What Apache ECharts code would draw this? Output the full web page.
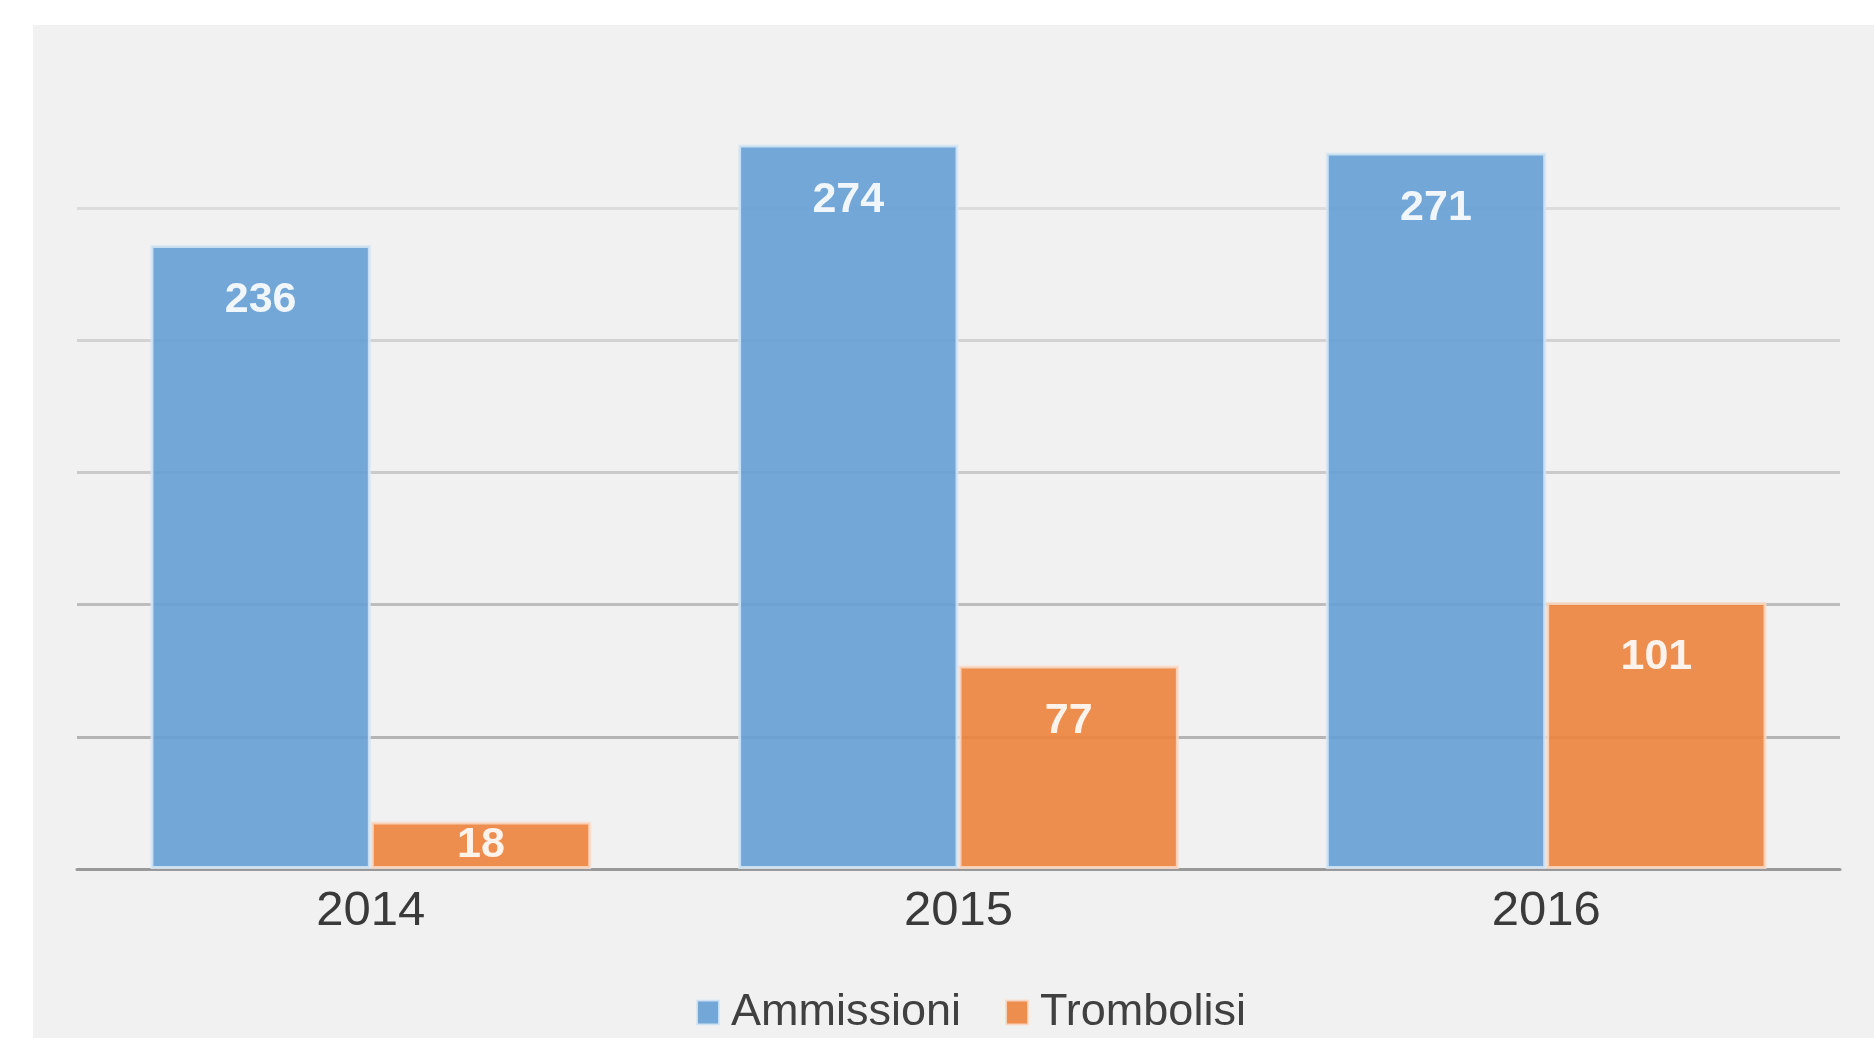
<!DOCTYPE html>
<html>
<head>
<meta charset="utf-8">
<script src="https://cdn.jsdelivr.net/npm/echarts@6/dist/echarts.min.js"></script>
<style>
  html, body { margin: 0; padding: 0; background: #ffffff; }
  #panel { position: absolute; left: 33px; top: 25px; width: 1841px; height: 1013px; background: #f1f1f1; }
  #chart { position: absolute; left: 0; top: 0; width: 1874px; height: 1038px; }
</style>
</head>
<body>
<div id="panel"></div>
<div id="chart"></div>
<script>
const years = ['2014', '2015', '2016']
const ammissioni = [236, 274, 271]
const trombolisi = [18, 77, 101]
const seriesNames = ['Ammissioni', 'Trombolisi']

const font = '"Liberation Sans", Arial, sans-serif'
const chart = echarts.init(document.getElementById('chart'))

function barData(values) {
  // short bars get their label centred, like the original
  return values.map(v => v < 40 ? { value: v, label: { position: 'inside', distance: 0 } } : v)
}

function makeSeries(name, values, color, border) {
  return {
    name: name,
    type: 'bar',
    data: barData(values),
    barGap: '0%',
    barCategoryGap: '25%',
    clip: false,
    itemStyle: {
      color: color,
      opacity: 0.9,
      borderColor: border,
      borderWidth: 3
    },
    label: {
      show: true,
      position: 'insideTop',
      distance: 34,
      color: '#ffffff',
      fontFamily: font,
      fontWeight: 'bold',
      fontSize: 43
    }
  }
}

chart.setOption({
  animation: false,
  backgroundColor: 'transparent',
  color: ['#649fd5', '#ec833d'],
  grid: {
    left: 77,
    right: 34,
    top: 208,
    bottom: 169
  },
  legend: {
    data: seriesNames,
    left: 691,
    top: 985,
    itemWidth: 22,
    itemHeight: 24,
    itemGap: 44,
    icon: 'rect',
    textStyle: {
      fontFamily: font,
      fontSize: 45,
      color: '#404040',
      padding: [0, 0, 0, 7]
    }
  },
  xAxis: {
    type: 'category',
    data: years,
    axisLine: {
      lineStyle: { color: '#999999', width: 3 }
    },
    axisTick: { show: false },
    axisLabel: {
      margin: 18,
      fontFamily: font,
      fontSize: 49,
      color: '#3a3a3a'
    }
  },
  yAxis: {
    type: 'value',
    min: 0,
    max: 250,
    interval: 50,
    axisLine: { show: false },
    axisTick: { show: false },
    axisLabel: { show: false },
    splitLine: {
      lineStyle: {
        width: 3,
        color: ['#999999', '#b4b4b4', '#bdbdbd', '#cacaca', '#d2d2d2', '#dcdcdc']
      }
    }
  },
  series: [
    makeSeries(seriesNames[0], ammissioni, '#649fd5', 'rgba(214,230,245,0.95)'),
    makeSeries(seriesNames[1], trombolisi, '#ec833d', 'rgba(248,219,200,0.95)')
  ]
})
</script>
</body>
</html>
